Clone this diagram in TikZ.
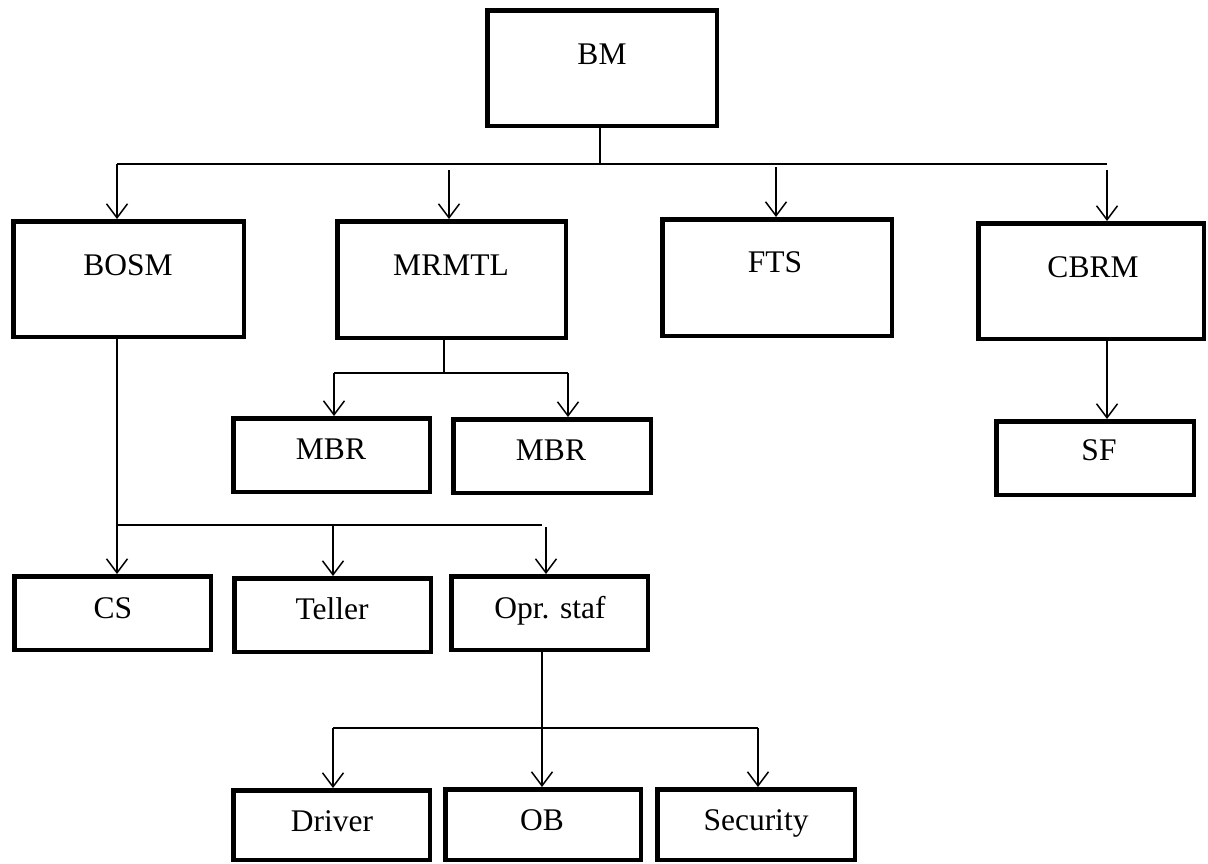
\documentclass[tikz,border=0pt]{standalone}
\usepackage{fontspec}
\setmainfont{Liberation Serif}
\usetikzlibrary{arrows.meta}
\begin{document}
\begin{tikzpicture}[x=1pt,y=-1pt,
  box/.style={draw, line width=4.5pt, rectangle, inner sep=0pt},
  lbl/.style={anchor=base, inner sep=0pt, font=\fontsize{31.5}{36}\selectfont},
  conn/.style={line width=1.5pt},
  arr/.style={conn, -{Straight Barb[length=14pt,width=21pt]}}]
\useasboundingbox (0,0) rectangle (1208,863);
% boxes
\node[box, minimum width=229.5pt, minimum height=115.5pt] (bm) at (602,68) {};
\node[box, minimum width=230.5pt, minimum height=115.5pt] (bosm) at (128.5,279) {};
\node[box, minimum width=228.5pt, minimum height=116.5pt] (mrmtl) at (451.5,279.5) {};
\node[box, minimum width=229.5pt, minimum height=116.5pt] (fts) at (777,277.5) {};
\node[box, minimum width=225.5pt, minimum height=115.5pt] (cbrm) at (1091,281) {};
\node[box, minimum width=196.5pt, minimum height=73.5pt] (mbra) at (331.5,455) {};
\node[box, minimum width=197.5pt, minimum height=73.5pt] (mbrb) at (552,456) {};
\node[box, minimum width=197.5pt, minimum height=73.5pt] (sf) at (1095,458) {};
\node[box, minimum width=196.5pt, minimum height=73.5pt] (cs) at (112.5,613) {};
\node[box, minimum width=196.5pt, minimum height=73.5pt] (teller) at (332.5,615) {};
\node[box, minimum width=196.5pt, minimum height=73.5pt] (opr) at (549.5,613) {};
\node[box, minimum width=196.5pt, minimum height=69.5pt] (driver) at (331.5,825) {};
\node[box, minimum width=195.5pt, minimum height=70.5pt] (ob) at (543,824.5) {};
\node[box, minimum width=197.5pt, minimum height=70.5pt] (sec) at (756,824.5) {};
% labels
\node[lbl] (bm-t) at (602,64) {BM};
\node[lbl] (bosm-t) at (128,275) {BOSM};
\node[lbl] (mrmtl-t) at (451,275) {MRMTL};
\node[lbl] (fts-t) at (775,272) {FTS};
\node[lbl] (cbrm-t) at (1093,277) {CBRM};
\node[lbl] (mbra-t) at (331,459) {MBR};
\node[lbl] (mbrb-t) at (551,460) {MBR};
\node[lbl] (sf-t) at (1099,460) {SF};
\node[lbl] (cs-t) at (113,618) {CS};
\node[lbl] (teller-t) at (332,619) {Teller};
\node[lbl] (opr-t) at (550,618) {Opr. staf};
\node[lbl] (driver-t) at (332,831) {Driver};
\node[lbl] (ob-t) at (542,830) {OB};
\node[lbl] (sec-t) at (756,830) {Security};
% BM connectors
\coordinate (bm-bus) at (600,164);
\coordinate (bus1l) at (117,164);
\coordinate (bus1r) at (1107,164);
\draw[conn] (bm.south -| bm-bus) -- (bm-bus);
\draw[conn] (bus1l) -- (bus1r);
\draw[arr] (bus1l) -- (bosm.north -| bus1l);
\coordinate (a2) at (449,170);
\draw[arr] (a2) -- (mrmtl.north -| a2);
\coordinate (a3) at (776,167);
\draw[arr] (a3) -- (fts.north -| a3);
\coordinate (a4) at (1107,170);
\draw[arr] (a4) -- (cbrm.north -| a4);
% MRMTL connectors
\coordinate (m-bus) at (444,373);
\coordinate (m-l) at (334,373);
\coordinate (m-r) at (568,373);
\draw[conn] (mrmtl.south -| m-bus) -- (m-bus);
\draw[conn] (m-l) -- (m-r);
\draw[arr] (m-l) -- (mbra.north -| m-l);
\draw[arr] (m-r) -- (mbrb.north -| m-r);
% CBRM connector
\coordinate (c-x) at (1107,0);
\draw[arr] (cbrm.south -| c-x) -- (sf.north -| c-x);
% BOSM connectors
\coordinate (b-l) at (117,525);
\coordinate (b-r) at (542,525);
\coordinate (b-m) at (333,525);
\coordinate (b-o) at (546,527);
\draw[conn] (b-l) -- (b-r);
\draw[arr] (bosm.south -| b-l) -- (cs.north -| b-l);
\draw[arr] (b-m) -- (teller.north -| b-m);
\draw[arr] (b-o) -- (opr.north -| b-o);
% Opr. staf connectors
\coordinate (o-x) at (542,728);
\coordinate (o-l) at (333,728);
\coordinate (o-r) at (758,728);
\draw[arr] (opr.south -| o-x) -- (ob.north -| o-x);
\draw[conn] (o-l) -- (o-r);
\draw[arr] (o-l) -- (driver.north -| o-l);
\draw[arr] (o-r) -- (sec.north -| o-r);
\end{tikzpicture}
\end{document}
